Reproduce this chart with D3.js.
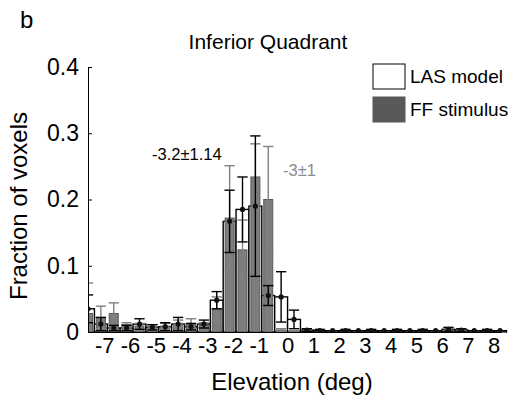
<!DOCTYPE html>
<html>
<head>
<meta charset="utf-8">
<script src="https://cdn.jsdelivr.net/npm/d3@7"></script>
<style>
  body { margin: 0; background: #fff; }
  text { font-family: "Liberation Sans", Arial, sans-serif; }
</style>
</head>
<body>
<svg id="chart"></svg>
<script>
// bin centres (deg), 0.5 deg bins
let bins = [-7.75, -7.25, -6.75, -6.25, -5.75, -5.25, -4.75, -4.25, -3.75, -3.25,
  -2.75, -2.25, -1.75, -1.25, -0.75, -0.25, 0.25, 0.75, 1.25, 1.75,
  2.25, 2.75, 3.25, 3.75, 4.25, 4.75, 5.25, 5.75, 6.25, 6.75,
  7.25, 7.75, 8.25];

// LAS model (white bars)
let lasMean = [0.035, 0.012, 0.006, 0.006, 0.012, 0.007, 0.008, 0.012, 0.008, 0.012,
  0.048, 0.167, 0.185, 0.19, 0.055, 0.053, 0.019, 0.003, 0.002, 0.002,
  0.002, 0.002, 0.002, 0.002, 0.002, 0.002, 0.002, 0.002, 0.004, 0.003,
  0.002, 0.002, 0.002];
let lasErr = [0.021, 0.01, 0.004, 0.004, 0.008, 0.004, 0.006, 0.01, 0.005, 0.006,
  0.013, 0.047, 0.049, 0.106, 0.015, 0.038, 0.014, 0.002, 0.002, 0,
  0.002, 0, 0.002, 0, 0.002, 0, 0.002, 0, 0.003, 0.002,
  0, 0.002, 0];

// FF stimulus (grey bars)
let ffMean = [0.028, 0.022, 0.028, 0.011, 0.009, 0.008, 0.009, 0.013, 0.012, 0.01,
  0.035, 0.172, 0.124, 0.234, 0.2, 0.003, 0.001, 0.001, 0, 0,
  0, 0, 0, 0, 0, 0, 0, 0, 0.003, 0.001,
  0, 0, 0];
let ffErr = [0.046, 0.017, 0.016, 0.003, 0.004, 0.003, 0.004, 0.005, 0.008, 0.004,
  0.018, 0.079, 0.045, 0.05, 0.08, 0.002, 0.001, 0, 0, 0,
  0, 0, 0, 0, 0, 0, 0, 0, 0.002, 0,
  0, 0, 0];

let xTicks = [-7, -6, -5, -4, -3, -2, -1, 0, 1, 2, 3, 4, 5, 6, 7, 8];
let yTicks = [0, 0.1, 0.2, 0.3, 0.4];

let W = 519, H = 395;
let binW = 0.5, ffW = 0.35, capW = 0.4;

let x = d3.scaleLinear().domain([-7.75, 8.25]).range([88, 500]);
let y = d3.scaleLinear().domain([0, 0.4]).range([332, 67]);

let svg = d3.select("#chart")
  .attr("width", W)
  .attr("height", H);

svg.append("defs").append("clipPath")
  .attr("id", "plotclip")
  .append("rect")
  .attr("x", 88).attr("y", 0)
  .attr("width", 420).attr("height", 333);

let plot = svg.append("g").attr("clip-path", "url(#plotclip)");

// white bars
plot.selectAll(".las")
  .data(bins)
  .enter().append("rect")
  .attr("class", "las")
  .attr("x", (d) => x(d - binW / 2))
  .attr("width", (d) => x(d + binW / 2) - x(d - binW / 2))
  .attr("y", (d, i) => y(lasMean[i]))
  .attr("height", (d, i) => y(0) - y(lasMean[i]))
  .style("fill", "#fff")
  .style("stroke", "#000")
  .style("stroke-width", 1.4);

// grey bars
plot.selectAll(".ff")
  .data(bins)
  .enter().append("rect")
  .attr("class", "ff")
  .attr("x", (d) => x(d - ffW / 2))
  .attr("width", (d) => x(d + ffW / 2) - x(d - ffW / 2))
  .attr("y", (d, i) => y(ffMean[i]))
  .attr("height", (d, i) => y(0) - y(ffMean[i]))
  .style("fill", "#7d7d7d")
  .style("stroke", "#5a5a5a")
  .style("stroke-width", 1);

function errorBars(cls, mean, err, color) {
  let g = plot.selectAll("." + cls)
    .data(bins)
    .enter().append("g")
    .attr("class", cls)
    .style("stroke", color)
    .style("stroke-width", 1.4);
  g.append("line")
    .attr("x1", (d) => x(d)).attr("x2", (d) => x(d))
    .attr("y1", (d, i) => y(mean[i] - err[i]))
    .attr("y2", (d, i) => y(mean[i] + err[i]));
  [1, -1].forEach(function(s) {
    g.append("line")
      .attr("x1", (d) => x(d - capW / 2)).attr("x2", (d) => x(d + capW / 2))
      .attr("y1", (d, i) => y(mean[i] + s * err[i]))
      .attr("y2", (d, i) => y(mean[i] + s * err[i]));
  });
}
errorBars("fferr", ffMean, ffErr, "#808080");
errorBars("laserr", lasMean, lasErr, "#000");

// LAS means
plot.selectAll(".dot")
  .data(bins)
  .enter().append("circle")
  .attr("class", "dot")
  .attr("cx", (d) => x(d))
  .attr("cy", (d, i) => y(lasMean[i]))
  .attr("r", 2.6)
  .style("fill", "#111");

// axes
let yAxis = d3.axisLeft(y).tickValues(yTicks).tickSizeInner(-4).tickSizeOuter(0)
  .tickFormat((d) => d === 0 ? "0" : d3.format(".1f")(d));
let gy = svg.append("g").attr("transform", "translate(88,0)").call(yAxis);
gy.selectAll("text").attr("x", -9).style("font-size", "23px").style("fill", "#000");
gy.selectAll("line, path").style("stroke", "#000");

let xAxis = d3.axisBottom(x).tickValues(xTicks).tickSize(0).tickFormat((d) => String(d));
let gx = svg.append("g").attr("transform", "translate(0,332)").call(xAxis);
gx.selectAll("text")
  .attr("y", 5)
  .attr("dx", (d) => d < 0 ? -3 : 0)
  .style("font-size", "22px").style("fill", "#000");
gx.selectAll("path").style("stroke", "#000");

// labels
svg.append("text").attr("x", 20).attr("y", 28).text("b")
  .style("font-size", "24px");
svg.append("text").attr("x", 268).attr("y", 49).attr("text-anchor", "middle")
  .text("Inferior Quadrant").style("font-size", "21px");
svg.append("text").attr("x", 292).attr("y", 390).attr("text-anchor", "middle")
  .text("Elevation (deg)").style("font-size", "24px");
svg.append("text")
  .attr("transform", "translate(27,206) rotate(-90)")
  .attr("text-anchor", "middle")
  .text("Fraction of voxels").style("font-size", "24px");
svg.append("text").attr("x", 152).attr("y", 160)
  .text("-3.2\u00b11.14").style("font-size", "16.5px");
svg.append("text").attr("x", 283).attr("y", 176)
  .text("-3\u00b11").style("font-size", "16.5px").style("fill", "#8c8c8c");

// legend
let legend = [["LAS model", "#fff"], ["FF stimulus", "#595959"]];
let lg = svg.selectAll(".leg").data(legend).enter().append("g")
  .attr("class", "leg")
  .attr("transform", (d, i) => "translate(373," + (64 + i * 33) + ")");
lg.append("rect").attr("width", 32).attr("height", 25)
  .style("fill", (d) => d[1]).style("stroke", (d) => d[1] === "#fff" ? "#000" : "#595959");
lg.append("text").attr("x", 37).attr("y", 19).text((d) => d[0])
  .style("font-size", "19px");
</script>
</body>
</html>
